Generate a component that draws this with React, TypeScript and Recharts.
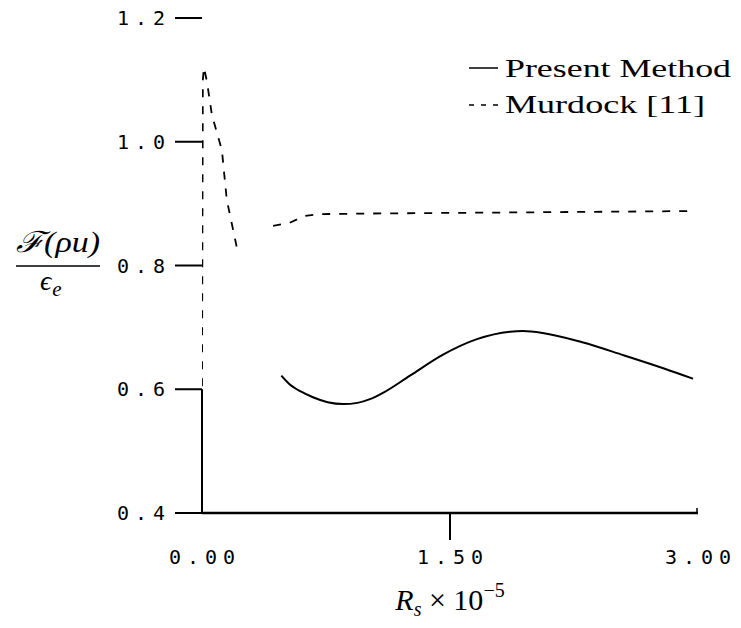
import React from 'react';
import { LineChart, Line, XAxis, YAxis, ReferenceLine, Customized } from 'recharts';

const seriesNames = ['Present Method', 'Murdock [11]'];

const presentX = [0.48, 0.526, 0.60, 0.671, 0.76, 0.853, 0.94, 1.016, 1.10, 1.258, 1.458, 1.663, 1.863, 1.94, 2.06, 2.30, 2.55, 2.79, 2.97];
const presentY = [0.622, 0.609, 0.596, 0.587, 0.579, 0.576, 0.578, 0.584, 0.595, 0.622, 0.656, 0.681, 0.693, 0.694, 0.691, 0.676, 0.655, 0.634, 0.617];

const murdockX = [0, 0.005, 0.012, 0.03, 0.06, 0.12, 0.15, 0.21, 0.32, 0.43, 0.53, 0.62, 0.71, 1.0, 1.5, 2.0, 2.5, 2.96];
const murdockY: (number | null)[] = [0.605, 1.10, 1.12, 1.097, 1.043, 0.987, 0.906, 0.83, null, 0.864, 0.869, 0.88, 0.883, 0.884, 0.885, 0.886, 0.887, 0.888];

const xTicks = [0, 1.5, 3];
const xTickLabels = ['0.00', '1.50', '3.00'];
const yTicks = [0.4, 0.6, 0.8, 1.0, 1.2];
const yTickLabels = ['0.4', '0.6', '0.8', '1.0', '1.2'];

const presentData = presentX.map((x, i) => ({ x, y: presentY[i] }));
const murdockData = murdockX.map((x, i) => ({ x, y: murdockY[i] }));

const MONO = '"DejaVu Sans Mono", monospace';
const SERIF = '"Liberation Serif", "Times New Roman", serif';

const XTick = (props: any) => {
  const { x, y, payload } = props;
  const i = xTicks.indexOf(payload.value);
  return (
    <g>
      {payload.value === 1.5 && (
        <line x1={x} x2={x} y1={y} y2={y + 27} stroke="#000" strokeWidth={2} />
      )}
      {payload.value === 3 && (
        <line x1={x - 1} x2={x - 1} y1={y} y2={y - 5} stroke="#000" strokeWidth={1.5} />
      )}
      <text
        x={x + 3}
        y={y + 44}
        textAnchor="middle"
        dominantBaseline="central"
        fontFamily={MONO}
        fontSize={20}
        letterSpacing={6}
        fill="#000"
      >
        {xTickLabels[i]}
      </text>
    </g>
  );
};

const YTick = (props: any) => {
  const { x, y, payload } = props;
  const i = yTicks.findIndex((v) => Math.abs(v - payload.value) < 1e-9);
  return (
    <g>
      <line x1={x - 27} x2={x} y1={y} y2={y} stroke="#000" strokeWidth={2} />
      <text
        x={x - 31}
        y={y}
        textAnchor="end"
        dominantBaseline="central"
        fontFamily={MONO}
        fontSize={20}
        letterSpacing={6}
        fill="#000"
      >
        {yTickLabels[i]}
      </text>
    </g>
  );
};

const Annotations = () => (
  <g>
    {/* y-axis label: fraction */}
    <text x={16} y={252} fontFamily={SERIF} fontSize={29} fontStyle="italic" fill="#000" textLength={84} lengthAdjust="spacingAndGlyphs">
      ℱ(ρu)
    </text>
    <line x1={16} x2={100} y1={266} y2={266} stroke="#000" strokeWidth={1.6} />
    <text x={40} y={290} fontFamily={SERIF} fontSize={28} fontStyle="italic" fill="#000">
      ϵ<tspan fontSize={21} dx={1} dy={6}>e</tspan>
    </text>

    {/* x-axis label */}
    <text x={450} y={610} textAnchor="middle" fontFamily={SERIF} fontSize={30} fill="#000">
      <tspan fontStyle="italic">R</tspan>
      <tspan fontStyle="italic" fontSize={20} dy={6}>s</tspan>
      <tspan dy={-6}> × 10</tspan>
      <tspan fontSize={20} dy={-13}>−5</tspan>
    </text>

    {/* legend */}
    <line x1={469} x2={498} y1={68} y2={68} stroke="#000" strokeWidth={1.5} />
    <text x={505} y={77} fontFamily={SERIF} fontSize={26} fill="#000" textLength={226} lengthAdjust="spacingAndGlyphs">
      {seriesNames[0]}
    </text>
    <line x1={469} x2={500} y1={105} y2={105} stroke="#000" strokeWidth={1.5} strokeDasharray="5 7" />
    <text x={505} y={113} fontFamily={SERIF} fontSize={26} fill="#000" textLength={200} lengthAdjust="spacingAndGlyphs">
      {seriesNames[1]}
    </text>
  </g>
);

export default function App() {
  return (
    <div style={{ position: 'absolute', left: 0, top: 0, width: 741, height: 628, background: '#fff' }}>
      <LineChart width={741} height={628} margin={{ top: 18, right: 43, bottom: 55, left: 2 }}>
        <XAxis
          type="number"
          dataKey="x"
          domain={[0, 3]}
          ticks={xTicks}
          allowDataOverflow
          height={60}
          tickSize={0}
          tickMargin={0}
          tickLine={false}
          axisLine={{ stroke: '#000', strokeWidth: 2.5 }}
          tick={(p: any) => <XTick {...p} />}
        />
        <YAxis
          type="number"
          dataKey="y"
          domain={[0.4, 1.2]}
          ticks={yTicks}
          allowDataOverflow
          width={200}
          tickSize={0}
          tickMargin={0}
          tickLine={false}
          axisLine={false}
          tick={(p: any) => <YTick {...p} />}
        />
        <ReferenceLine
          segment={[{ x: 0, y: 0.4 }, { x: 0, y: 0.6 }]}
          stroke="#000"
          strokeWidth={2}
          ifOverflow="visible"
        />
        <Line
          data={presentData}
          dataKey="y"
          name={seriesNames[0]}
          type="monotone"
          stroke="#000"
          strokeWidth={2}
          dot={false}
          isAnimationActive={false}
        />
        <Line
          data={murdockData}
          dataKey="y"
          name={seriesNames[1]}
          type="linear"
          stroke="#000"
          strokeWidth={1.8}
          strokeDasharray="8 9"
          connectNulls={false}
          dot={false}
          isAnimationActive={false}
        />
        <Customized component={Annotations} />
      </LineChart>
    </div>
  );
}
